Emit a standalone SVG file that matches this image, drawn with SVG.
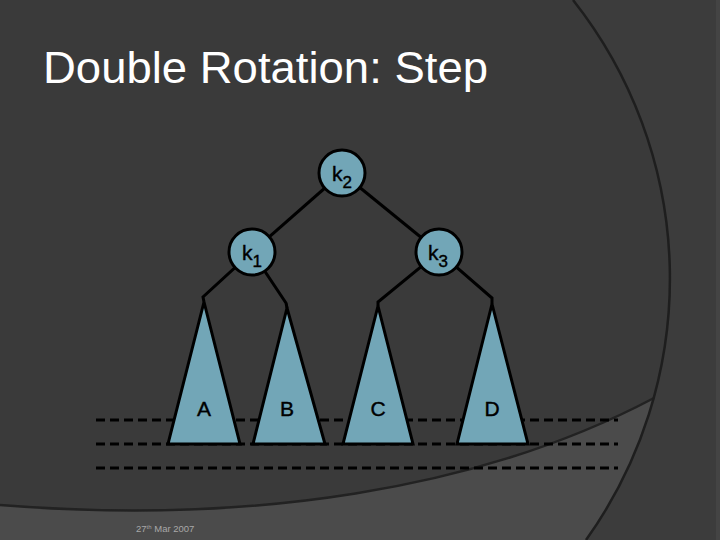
<svg xmlns="http://www.w3.org/2000/svg" width="720" height="540" viewBox="0 0 720 540">
<style>
.edge{stroke:#000;stroke-width:3;fill:none}
.dash{stroke:#000;stroke-width:3;stroke-dasharray:9 5;fill:none}
.node{fill:#72a6b7;stroke:#000;stroke-width:3}
.tri{fill:#72a6b7;stroke:#000;stroke-width:3;stroke-linejoin:miter}
.lbl{font-family:"Liberation Sans",Arial,sans-serif;font-size:21px;fill:#000;stroke:#000;stroke-width:0.4}
.sub{font-size:17px}
</style>
<rect x="0" y="0" width="720" height="540" fill="#3a3a3a"/>
<path d="M573,0 A449,449 0 0 1 586,540 L720,540 L720,0 Z" fill="#3c3c3c"/>
<path d="M0,505 C250,525 480,490 654,398 A449,449 0 0 1 586,540 L0,540 Z" fill="#4b4b4b"/>
<path d="M0,505 C250,525 480,490 654,398" fill="none" stroke="#222" stroke-width="2.5"/>
<path d="M573,0 A449,449 0 0 1 586,540" fill="none" stroke="#1e1e1e" stroke-width="2.5"/>
<rect x="716" y="0" width="4" height="540" fill="#444"/>
<text x="43" y="83" font-family="'Liberation Sans',Arial,sans-serif" font-size="44" fill="#fff" textLength="445" lengthAdjust="spacingAndGlyphs">Double Rotation: Step</text>
<text x="136" y="532" font-family="'Liberation Sans',Arial,sans-serif" font-size="9.5" fill="#a8a8a8">27<tspan font-size="6" dy="-3">th</tspan><tspan dy="3"> Mar 2007</tspan></text>
<g id="levels">
<line class="dash" x1="96" y1="420" x2="618" y2="420"/>
<line class="dash" x1="96" y1="444" x2="618" y2="444"/>
<line class="dash" x1="96" y1="468" x2="618" y2="468"/>
</g>
<g id="connectors">
<line class="edge" x1="342" y1="173" x2="252" y2="252"/>
<line class="edge" x1="342" y1="173" x2="439" y2="252"/>
<polyline class="edge" points="252,252 203,297 204,302"/>
<polyline class="edge" points="252,252 286,303 287,308"/>
<polyline class="edge" points="439,252 378,302 378,306"/>
<polyline class="edge" points="439,252 492,298 492,304"/>
</g>
<g id="k2"><circle class="node" cx="342" cy="173" r="23"/><text class="lbl" x="332" y="181">k<tspan class="sub" dy="7">2</tspan></text></g>
<g id="k1"><circle class="node" cx="252" cy="252" r="23"/><text class="lbl" x="242" y="260">k<tspan class="sub" dy="7">1</tspan></text></g>
<g id="k3"><circle class="node" cx="439" cy="252" r="23"/><text class="lbl" x="428" y="260">k<tspan class="sub" dy="7">3</tspan></text></g>
<g id="A"><polygon class="tri" points="204,302 240,444 168,444"/><text class="lbl" x="204" y="416" text-anchor="middle">A</text></g>
<g id="B"><polygon class="tri" points="287,308 325,444 253,444"/><text class="lbl" x="287" y="416" text-anchor="middle">B</text></g>
<g id="C"><polygon class="tri" points="378,306 413,444 343,444"/><text class="lbl" x="378" y="416" text-anchor="middle">C</text></g>
<g id="D"><polygon class="tri" points="492,304 528,444 457,444"/><text class="lbl" x="492" y="416" text-anchor="middle">D</text></g>
</svg>
